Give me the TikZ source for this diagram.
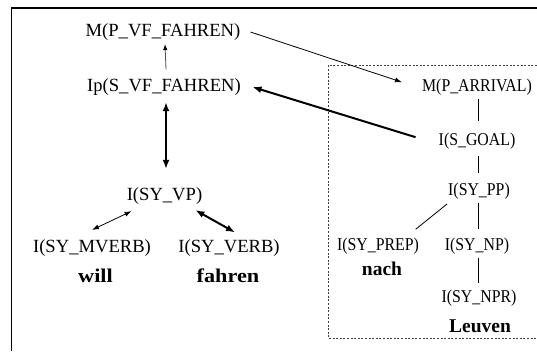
\documentclass[tikz,border=0pt]{standalone}
\usepackage{fontspec}
\setmainfont{Liberation Serif}
\usetikzlibrary{arrows.meta,calc}
\begin{document}
\begin{tikzpicture}[x=1pt,y=-1pt,
  lbl/.style={inner sep=0pt,anchor=base,font=\fontsize{18.6}{20}\selectfont},
  rlbl/.style={inner sep=0pt,anchor=base,font=\fontsize{18}{20}\selectfont},
  wrd/.style={inner sep=0pt,anchor=base,font=\fontsize{19.5}{21}\selectfont\bfseries},
  thin/.style={line width=0.8pt},
  thick2/.style={line width=2pt},
  tipS/.tip={Latex[length=7pt,width=5pt]},
  tipL/.tip={Latex[length=9pt,width=7pt]}]
\useasboundingbox[fill=white] (0,0) rectangle (537,351);
% frames
\draw[line width=1.5pt] (11.5,351) -- (11.5,8) -- (537,8);
\draw[black!75,line width=0.9pt,dash pattern=on 2pt off 1.6pt] (537,65) -- (328.5,65) -- (328.5,338.5) -- (537,338.5);
% left labels
\node[lbl] (mvf) at (163,36) {M(P\_VF\_FAHREN)};
\node[lbl] (ipvf) at (164,91) {Ip(S\_VF\_FAHREN)};
\node[lbl] (vp) at (164.5,200) {I(SY\_VP)};
\node[lbl] (mverb) at (92,252) {I(SY\_MVERB)};
\node[lbl] (verb) at (229,252) {I(SY\_VERB)};
\node[wrd] (will) at (95.5,282) {\scalebox{1.14}[1]{will}};
\node[wrd] (fahren) at (228,282) {\scalebox{1.14}[1]{fahren}};
% right labels
\node[rlbl] (marr) at (477,91) {\scalebox{0.88}[1]{M(P\_ARRIVAL)}};
\node[rlbl] (sgoal) at (477,145) {\scalebox{0.88}[1]{I(S\_GOAL)}};
\node[rlbl] (pp) at (479,195) {\scalebox{0.88}[1]{I(SY\_PP)}};
\node[rlbl] (prep) at (378,250) {\scalebox{0.88}[1]{I(SY\_PREP)}};
\node[rlbl] (np) at (477,250) {\scalebox{0.88}[1]{I(SY\_NP)}};
\node[rlbl] (npr) at (479,302) {\scalebox{0.88}[1]{I(SY\_NPR)}};
\node[wrd] (nach) at (382,275) {nach};
\node[wrd] (leuven) at (480,332) {Leuven};
% connectors
\draw[thin,black!70,-{tipS[black,length=6pt,width=4.5pt]}] ($(ipvf.north)+(2,-8.5)$) -- ($(mvf.south)+(2,4)$);
\draw[thick2,{tipL}-{tipL}] ($(ipvf.south)+(2,7)$) -- ($(vp.north)+(1.5,-18)$);
\draw[thin,{tipS}-{tipS}] ($(vp.south west)+(5,7)$) -- ($(mverb.north)+(0,-9)$);
\draw[thick2,{tipL}-{tipL}] ($(vp.south east)+(-7,6)$) -- ($(verb.north)+(6,-6.5)$);
\draw[thin,-{tipS}] ($(mvf.east)+(10,0.5)$) -- ($(marr.west)+(-20,-4.5)$);
\draw[thick2,-{tipL}] ($(sgoal.west)+(-23,-3.5)$) -- ($(ipvf.east)+(11.5,0.5)$);
\draw[thin] ($(marr.south)+(1,4)$) -- ($(sgoal.north)+(1,-11)$);
\draw[thin] ($(sgoal.south)+(1,7)$) -- ($(pp.north)+(-1,-9)$);
\draw[thin] ($(pp.south)+(-1,3.5)$) -- ($(np.north)+(1,-8)$);
\draw[thin] ($(np.south)+(1,3.5)$) -- ($(npr.north)+(-1,-6.5)$);
\draw[thin] ($(pp.south west)+(-1,5)$) -- ($(prep.north east)+(-3.5,-8)$);
\end{tikzpicture}
\end{document}
